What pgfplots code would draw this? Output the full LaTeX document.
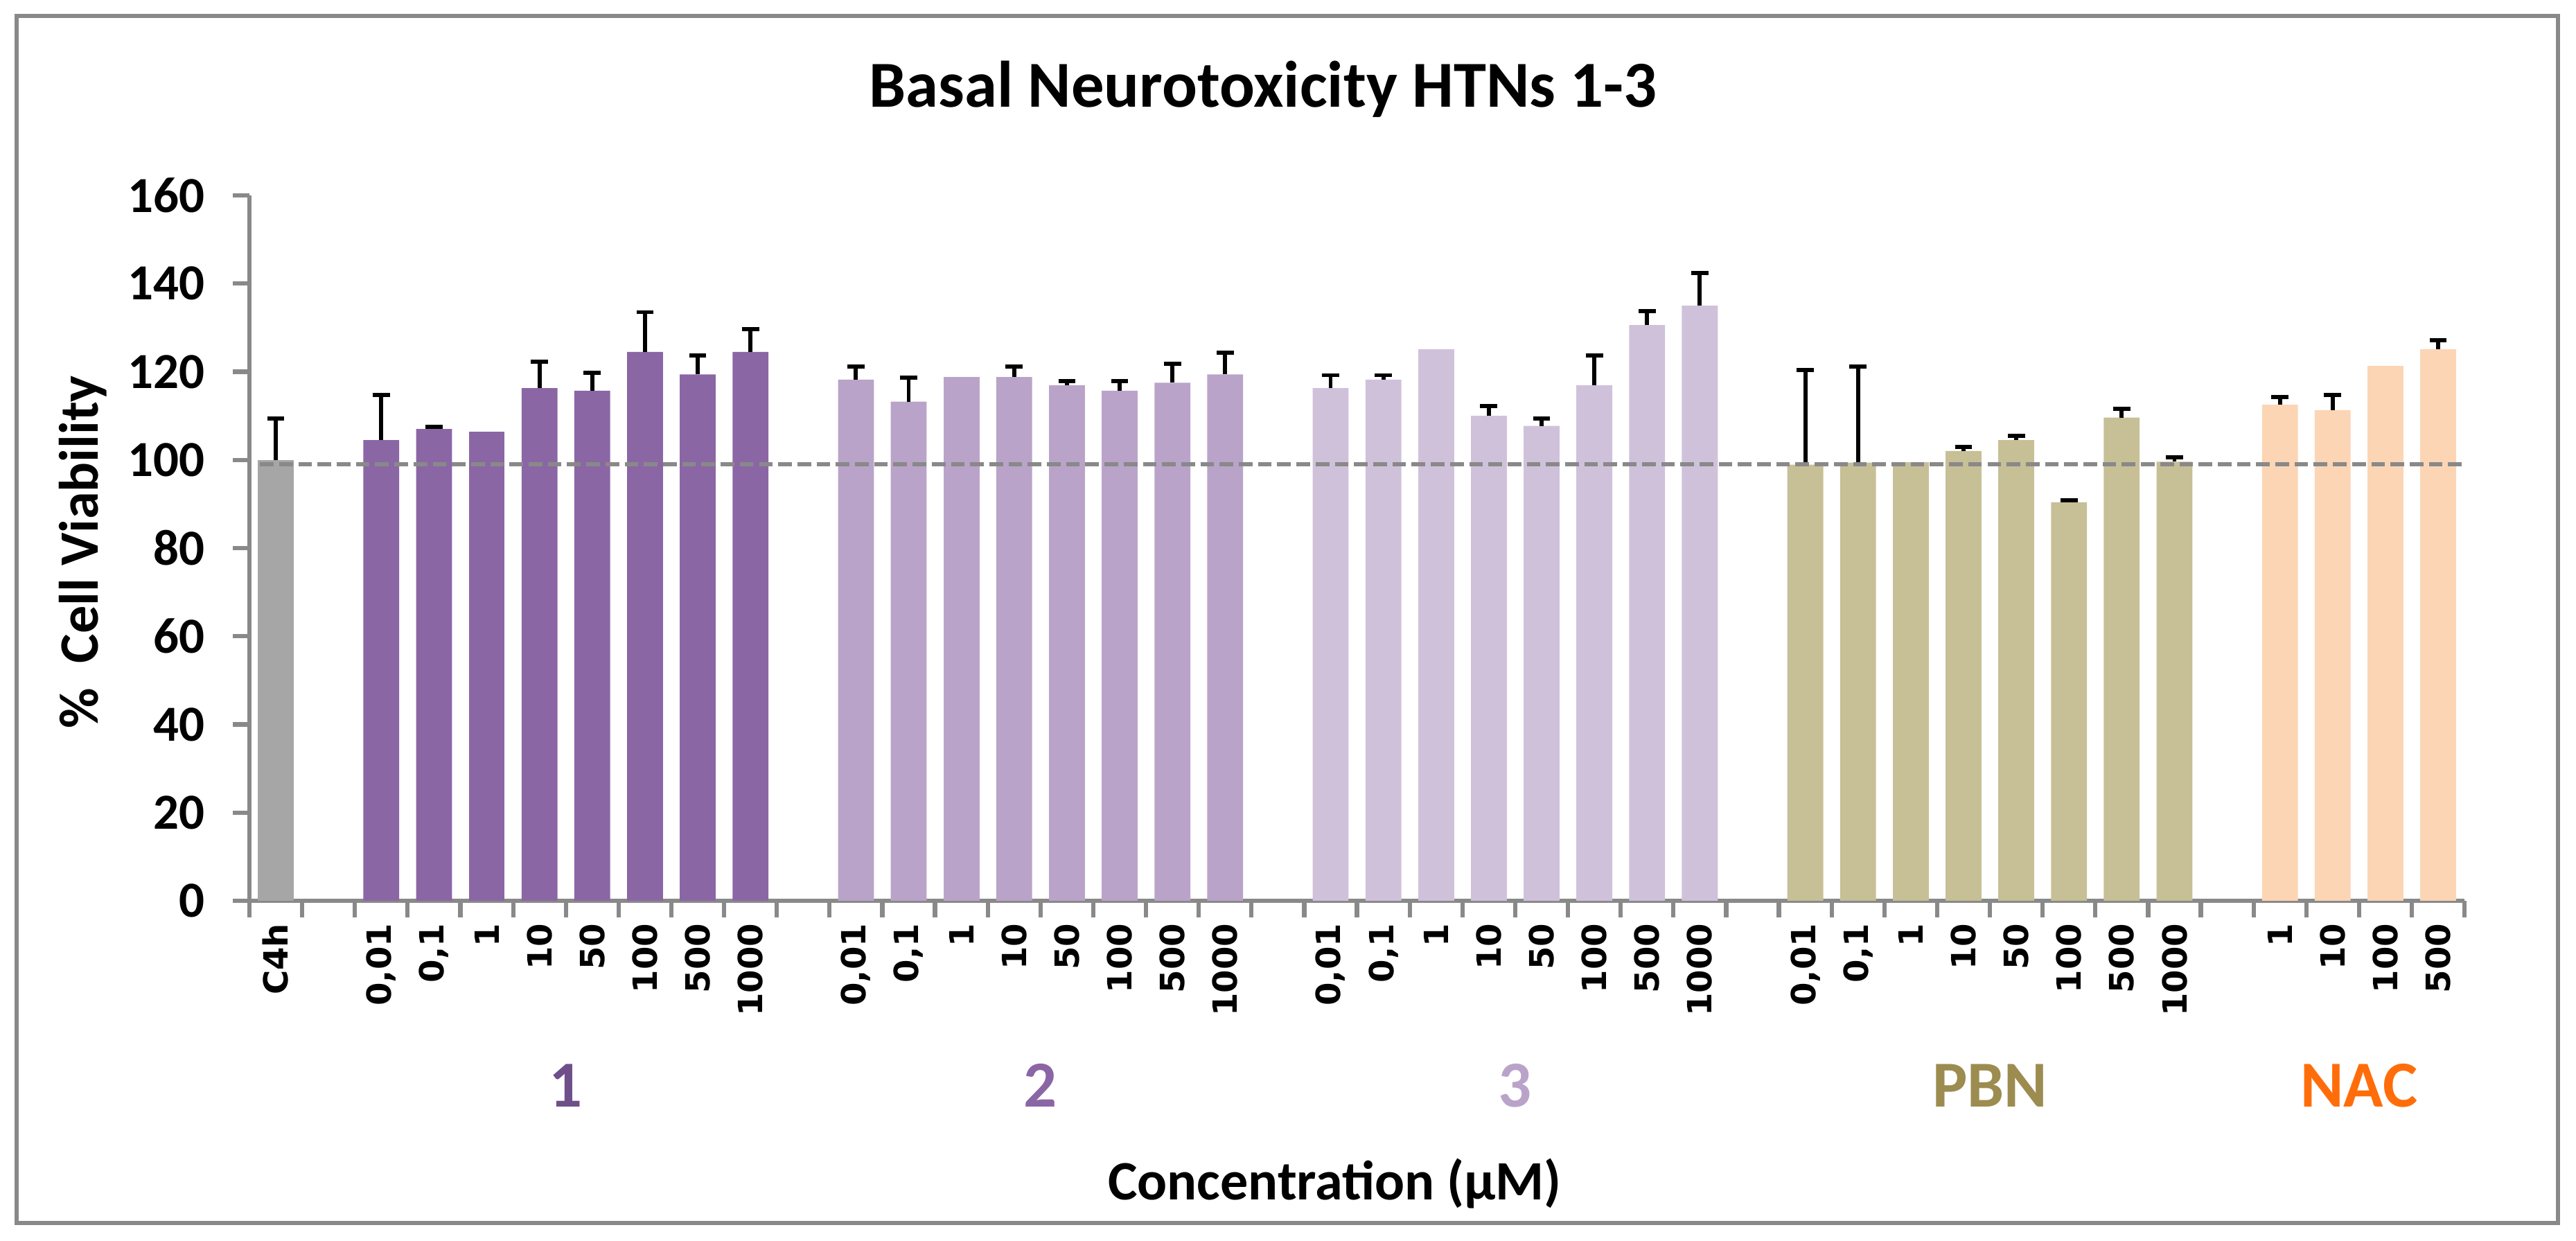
\documentclass[border=0pt]{standalone}
\usepackage{pgfplots}
\pgfplotsset{compat=1.18}
\usepackage{fontspec}
\setmainfont{Carlito}
\newfontfamily\ticksfont{DejaVu Sans}

\definecolor{axgray}{HTML}{898989}
\definecolor{cctrl}{HTML}{A6A6A6}
\definecolor{cone}{HTML}{8B66A5}
\definecolor{ctwo}{HTML}{BAA3C9}
\definecolor{cthree}{HTML}{D0C1DB}
\definecolor{cpbn}{HTML}{C7BF96}
\definecolor{cnac}{HTML}{FCD5B5}
\definecolor{lone}{HTML}{6E4F8A}
\definecolor{lpbn}{HTML}{9C8C50}
\definecolor{lnac}{HTML}{FF6D0A}

\begin{document}
\begin{tikzpicture}
\useasboundingbox (0,0) rectangle (510pt,245.54pt);
\draw[axgray, line width=0.8pt] (3.3pt,3.4pt) rectangle (506.4pt,242.4pt);
\begin{axis}[
    at={(49.38pt,67.22pt)}, anchor=south west,
    scale only axis,
    width=438.55pt, height=139.64pt,
    xmin=0, xmax=42, ymin=0, ymax=160,
    axis lines=left,
    axis line style={axgray, line width=0.85pt, -},
    clip=false,
    tick align=outside,
    ytick={0,20,...,160},
    major tick length=3.3pt,
    tick style={axgray, line width=0.85pt},
    xtick={0,1,...,42},
    x tick label as interval,
    xticklabels={C4h,{},{0,01},{0,1},1,10,50,100,500,1000,{},
        {0,01},{0,1},1,10,50,100,500,1000,{},
        {0,01},{0,1},1,10,50,100,500,1000,{},
        {0,01},{0,1},1,10,50,100,500,1000,{},
        1,10,100,500},
    xticklabel style={rotate=90, anchor=east, inner sep=1pt,
        font=\ticksfont\bfseries\fontsize{6.6}{8}\selectfont},
    yticklabel style={font=\bfseries\fontsize{10}{12}\selectfont, xshift=-2pt},
    /pgf/number format/assume math mode=true,
    title={Basal Neurotoxicity HTNs 1-3},
    title style={at={(axis description cs:0.4576,1.0825)}, anchor=base,
        font=\bfseries\fontsize{13}{15}\selectfont},
    xlabel={Concentration (µM)},
    xlabel style={at={(axis description cs:0.49,-0.4234)}, anchor=base,
        font=\bfseries\fontsize{11}{13}\selectfont},
    ylabel={\%\ \ Cell Viability},
    ylabel style={at={(axis description cs:-0.0682,0.494)}, anchor=base,
        font=\bfseries\fontsize{11}{13}\selectfont},
    every axis plot/.append style={ybar, bar shift=0pt, bar width=0.68, draw=none},
    error bars/error bar style={draw=black, solid, line width=0.8pt},
    error bars/error mark options={draw=black, line width=0.8pt, mark size=1.7pt, rotate=90},
]
% control
\addplot[fill=cctrl, error bars/.cd, y dir=plus, y explicit]
    coordinates {(0.5,100) +- (0,9.4)};
% compound 1
\addplot[fill=cone, error bars/.cd, y dir=plus, y explicit] coordinates {
    (2.5,104.5) +- (0,10.2) (3.5,107.0) +- (0,0.5) (5.5,116.3) +- (0,6.0)
    (6.5,115.7) +- (0,4.1) (7.5,124.5) +- (0,9.0) (8.5,119.4) +- (0,4.3)
    (9.5,124.5) +- (0,5.2)};
\addplot[fill=cone] coordinates {(4.5,106.4)};
% compound 2
\addplot[fill=ctwo, error bars/.cd, y dir=plus, y explicit] coordinates {
    (11.5,118.2) +- (0,3.0) (12.5,113.2) +- (0,5.4) (14.5,118.8) +- (0,2.4)
    (15.5,116.9) +- (0,1.0) (16.5,115.7) +- (0,2.2) (17.5,117.5) +- (0,4.3)
    (18.5,119.4) +- (0,4.9)};
\addplot[fill=ctwo] coordinates {(13.5,118.8)};
% compound 3
\addplot[fill=cthree, error bars/.cd, y dir=plus, y explicit] coordinates {
    (20.5,116.3) +- (0,2.9) (21.5,118.2) +- (0,1.0) (23.5,110.0) +- (0,2.2)
    (24.5,107.7) +- (0,1.7) (25.5,116.9) +- (0,6.8) (26.5,130.6) +- (0,3.1)
    (27.5,135.0) +- (0,7.4)};
\addplot[fill=cthree] coordinates {(22.5,125.1)};
% PBN
\addplot[fill=cpbn, error bars/.cd, y dir=plus, y explicit] coordinates {
    (29.5,98.9) +- (0,21.5) (30.5,99.4) +- (0,21.8) (32.5,102.0) +- (0,1.0)
    (33.5,104.5) +- (0,1.0) (34.5,90.4) +- (0,0.5) (35.5,109.6) +- (0,2.0)
    (36.5,99.6) +- (0,1.0)};
\addplot[fill=cpbn] coordinates {(31.5,99.5)};
% NAC
\addplot[fill=cnac, error bars/.cd, y dir=plus, y explicit] coordinates {
    (38.5,112.5) +- (0,1.7) (39.5,111.3) +- (0,3.4) (41.5,125.1) +- (0,2.1)};
\addplot[fill=cnac] coordinates {(40.5,121.3)};
% reference line
\addplot[sharp plot, draw=axgray, line width=0.8pt, dash pattern=on 2.7pt off 1.1pt]
    coordinates {(0.2,99) (41.95,99)};
% group labels
\node[anchor=base, text=lone, font=\bfseries\fontsize{13}{15}\selectfont] at (axis cs:6,-46.8) {1};
\node[anchor=base, text=cone, font=\bfseries\fontsize{13}{15}\selectfont] at (axis cs:15,-46.8) {2};
\node[anchor=base, text=ctwo, font=\bfseries\fontsize{13}{15}\selectfont] at (axis cs:24,-46.8) {3};
\node[anchor=base, text=lpbn, font=\bfseries\fontsize{13}{15}\selectfont] at (axis cs:33,-46.8) {PBN};
\node[anchor=base, text=lnac, font=\bfseries\fontsize{13}{15}\selectfont] at (axis cs:40,-46.8) {NAC};
\end{axis}
\end{tikzpicture}
\end{document}
